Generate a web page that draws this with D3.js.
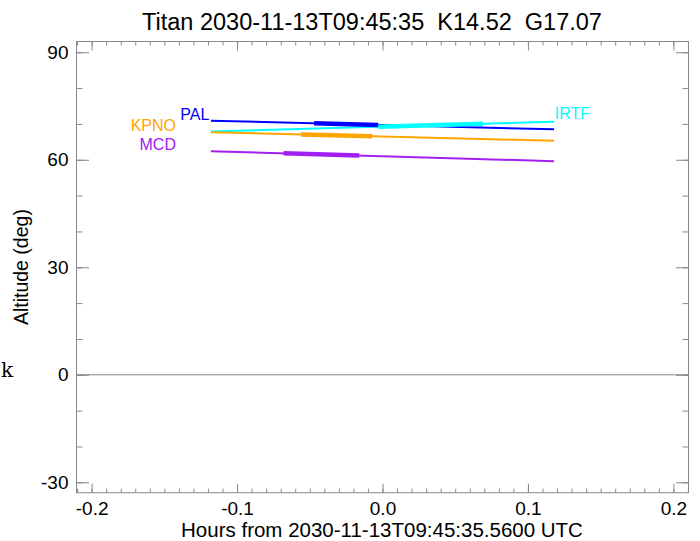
<!DOCTYPE html>
<html><head><meta charset="utf-8">
<script src="https://cdn.jsdelivr.net/npm/d3@7"></script>
<style>body{margin:0;background:#fff}svg{display:block}</style>
</head><body>
<script>
const titleText = "Titan 2030-11-13T09:45:35  K14.52  G17.07";
const xLabel = "Hours from 2030-11-13T09:45:35.5600 UTC";
const yLabel = "Altitude (deg)";
const xTicks = [-0.2, -0.1, 0.0, 0.1, 0.2];
const xTickLabels = ["-0.2", "-0.1", "0.0", "0.1", "0.2"];
const yTicks = [-30, 0, 30, 60, 90];
const yTickLabels = ["-30", "0", "30", "60", "90"];
const observatories = ["PAL", "IRTF", "KPNO", "MCD"];
const colors = ["#0000ff", "#00ffff", "#ffa500", "#a020f0"];
const lineHours = [-0.118, 0.118];
const palAlt = [70.9, 68.5];
const irtfAlt = [67.9, 70.6];
const kpnoAlt = [67.7, 65.3];
const mcdAlt = [62.4, 59.6];
const palThick = [-0.047, -0.003];
const irtfThick = [-0.003, 0.069];
const kpnoThick = [-0.056, -0.007];
const mcdThick = [-0.068, -0.016];

const FONT = '"Liberation Sans",Arial,sans-serif';
const W = 700, H = 541;
const L = 76.5, R = 688.5, T = 41.5, B = 492.7;
const svg = d3.select("body").append("svg").attr("width", W).attr("height", H);
const x = d3.scaleLinear().domain([-0.2104, 0.2104]).range([L, R]);
const y = d3.scaleLinear().domain([-32.9, 93]).range([B, T]);
const axisCol = "#888";

svg.append("rect").attr("x", L).attr("y", T).attr("width", R - L).attr("height", B - T)
  .attr("fill", "none").attr("stroke", axisCol).attr("stroke-width", 1);

const xMinor = d3.range(-21, 22).map(i => i / 100).filter(v => v >= -0.2104 && v <= 0.2104);
const yMinor = d3.range(-30, 91, 10);

function axes() {
  const g = svg.append("g");
  g.append("g").attr("transform", `translate(0,${B})`)
    .call(d3.axisBottom(x).tickValues(xMinor).tickSize(-4).tickFormat(""));
  g.append("g").attr("transform", `translate(0,${B})`)
    .call(d3.axisBottom(x).tickValues(xTicks).tickSize(-9).tickPadding(9)
      .tickFormat((d, i) => xTickLabels[i]));
  g.append("g").attr("transform", `translate(0,${T})`)
    .call(d3.axisTop(x).tickValues(xMinor).tickSize(-4).tickFormat(""));
  g.append("g").attr("transform", `translate(0,${T})`)
    .call(d3.axisTop(x).tickValues(xTicks).tickSize(-9).tickFormat(""));
  g.append("g").attr("transform", `translate(${L},0)`)
    .call(d3.axisLeft(y).tickValues(yMinor).tickSize(-6).tickFormat(""));
  g.append("g").attr("transform", `translate(${L},0)`)
    .call(d3.axisLeft(y).tickValues(yTicks).tickSize(-12.5).tickPadding(8)
      .tickFormat((d, i) => yTickLabels[i]));
  g.append("g").attr("transform", `translate(${R},0)`)
    .call(d3.axisRight(y).tickValues(yMinor).tickSize(-6).tickFormat(""));
  g.append("g").attr("transform", `translate(${R},0)`)
    .call(d3.axisRight(y).tickValues(yTicks).tickSize(-12.5).tickFormat(""));
  g.selectAll(".domain").remove();
  g.selectAll(".tick line").attr("stroke", axisCol);
  g.selectAll(".tick text").attr("font-size", 19).attr("fill", "#000")
    .style("font-family", FONT);
}
axes();

svg.append("line").attr("x1", L).attr("x2", R).attr("y1", y(0)).attr("y2", y(0))
  .attr("stroke", axisCol).attr("stroke-width", 1);

const alts = [palAlt, irtfAlt, kpnoAlt, mcdAlt];
const thicks = [palThick, irtfThick, kpnoThick, mcdThick];
const line = d3.line().x(d => x(d[0])).y(d => y(d[1]));
observatories.forEach((name, i) => {
  const pts = lineHours.map((h, j) => [h, alts[i][j]]);
  svg.append("path").attr("d", line(pts)).attr("fill", "none")
    .attr("stroke", colors[i]).attr("stroke-width", 2);
});
observatories.forEach((name, i) => {
  const interp = d3.scaleLinear().domain(lineHours).range(alts[i]);
  const pts = thicks[i].map(h => [h, interp(h)]);
  svg.append("path").attr("d", line(pts)).attr("fill", "none")
    .attr("stroke", colors[i]).attr("stroke-width", 4.5);
});

const labelPos = [
  {anchor: "end", hx: -0.119, alt: 72.3},
  {anchor: "start", hx: 0.1185, alt: 72.5},
  {anchor: "end", hx: -0.142, alt: 69.2},
  {anchor: "end", hx: -0.142, alt: 64.0}
];
observatories.forEach((name, i) => {
  svg.append("text").attr("x", x(labelPos[i].hx)).attr("y", y(labelPos[i].alt))
    .attr("text-anchor", labelPos[i].anchor).attr("dominant-baseline", "middle")
    .style("font-family", FONT)
    .attr("font-size", 16).attr("fill", colors[i]).text(name);
});

svg.append("text").attr("x", 372).attr("y", 30).attr("text-anchor", "middle")
  .style("font-family", FONT).style("white-space", "pre").attr("xml:space", "preserve")
  .attr("font-size", 23.5).attr("fill", "#000").text(titleText);
svg.append("text").attr("x", 382).attr("y", 537).attr("text-anchor", "middle")
  .style("font-family", FONT)
  .attr("font-size", 20.5).attr("fill", "#000").text(xLabel);
svg.append("text").attr("transform", `translate(28,${(T + B) / 2}) rotate(-90)`)
  .style("font-family", FONT)
  .attr("text-anchor", "middle").attr("font-size", 19.5).attr("fill", "#000").text(yLabel);
svg.append("text").attr("x", 1).attr("y", 377).style("font-family", '"DejaVu Serif",serif')
  .attr("font-size", 20).attr("fill", "#000").text("k");
</script>
</body></html>
